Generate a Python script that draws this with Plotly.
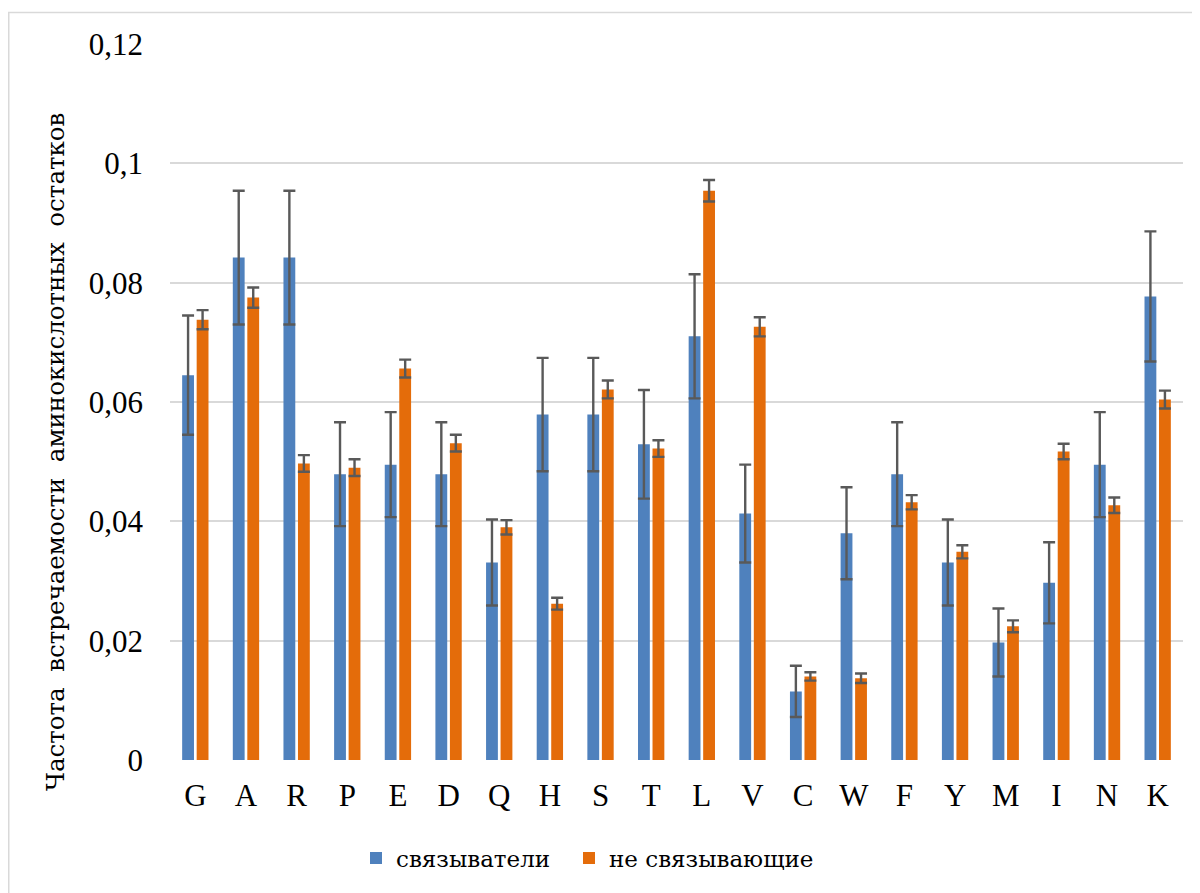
import plotly.graph_objects as go

categories = ["G", "A", "R", "P", "E", "D", "Q", "H", "S", "T",
              "L", "V", "C", "W", "F", "Y", "M", "I", "N", "K"]
binders = [0.0645, 0.0842, 0.0842, 0.0479, 0.0495, 0.0479, 0.0331, 0.0579, 0.0579, 0.0529,
           0.0710, 0.0413, 0.0115, 0.0380, 0.0479, 0.0331, 0.0197, 0.0297, 0.0495, 0.0777]
binders_err = [0.0100, 0.0112, 0.0112, 0.0087, 0.0088, 0.0087, 0.0072, 0.0095, 0.0095, 0.0091,
               0.0104, 0.0082, 0.0043, 0.0077, 0.0087, 0.0072, 0.0057, 0.0068, 0.0088, 0.0109]
nonbinders = [0.0738, 0.0775, 0.0497, 0.0490, 0.0656, 0.0531, 0.0390, 0.0262, 0.0621, 0.0522,
              0.0954, 0.0726, 0.0140, 0.0137, 0.0432, 0.0349, 0.0224, 0.0517, 0.0427, 0.0604]
nonbinders_err = [0.0016, 0.0017, 0.0014, 0.0014, 0.0015, 0.0014, 0.0012, 0.0010, 0.0015, 0.0014,
                  0.0018, 0.0016, 0.0007, 0.0008, 0.0012, 0.0011, 0.0010, 0.0013, 0.0013, 0.0015]
y_tickvals = [0, 0.02, 0.04, 0.06, 0.08, 0.1, 0.12]
y_ticktext = ["0", "0,02", "0,04", "0,06", "0,08", "0,1", "0,12"]
series_names = ["связыватели", "не связывающие"]
y_title = "Частота  встречаемости  аминокислотных  остатков"

# page body has an 8px margin, so the figure is drawn 8px in from the window edge
W, H = 1192, 885
ML, MR, MT, MB = 162, 17, 36, 133
PW, PH = W - ML - MR, H - MT - MB

def px_x(x):
    return (x - ML) / PW

def px_y(y):
    return 1 - (y - MT) / PH

FONT = "Liberation Serif"
CYR_FONT = "DejaVu Serif"
BLUE = "#4f81bd"
ORANGE = "#e46c0a"
ERR = "#595959"

fig = go.Figure()
fig.add_trace(go.Bar(
    x=categories, y=binders, name=series_names[0], legend="legend",
    marker=dict(color=BLUE, line=dict(width=0)),
    error_y=dict(type="data", array=binders_err, visible=True,
                 color=ERR, thickness=2.4, width=6),
))
fig.add_trace(go.Bar(
    x=categories, y=nonbinders, name=series_names[1], legend="legend2",
    marker=dict(color=ORANGE, line=dict(width=0)),
    error_y=dict(type="data", array=nonbinders_err, visible=True,
                 color=ERR, thickness=2.4, width=6),
))

leg_common = dict(orientation="h", xref="container", yref="container",
                  xanchor="left", y=1 - 850 / H, yanchor="middle",
                  font=dict(family=CYR_FONT, size=23, color="black"),
                  itemwidth=30, bgcolor="rgba(0,0,0,0)", borderwidth=0)

fig.update_layout(
    width=W, height=H,
    margin=dict(l=ML, r=MR, t=MT, b=MB, pad=0),
    paper_bgcolor="white", plot_bgcolor="white",
    barmode="group", bargap=0.427, bargroupgap=0.186,
    font=dict(family=FONT, size=31, color="black"),
    showlegend=True,
    legend=dict(x=348 / W, **leg_common),
    legend2=dict(x=561 / W, **leg_common),
    xaxis=dict(showline=False, ticks="", showgrid=False,
               tickfont=dict(family=FONT, size=31), ticklabelstandoff=14),
    yaxis=dict(range=[0, 0.12], tickvals=y_tickvals, ticktext=y_ticktext,
               showgrid=True, gridcolor="#d9d9d9", gridwidth=1.5,
               zeroline=False, showline=False, ticks="",
               tickfont=dict(family=FONT, size=31), ticklabelstandoff=26),
    annotations=[dict(text=y_title, textangle=-90, xref="paper", yref="paper",
                      x=px_x(48), y=px_y(444), xanchor="center", yanchor="middle",
                      showarrow=False, font=dict(family=CYR_FONT, size=24.5, color="black"))],
    shapes=[
        dict(type="line", xref="paper", yref="paper", layer="below",
             x0=px_x(0), x1=px_x(W), y0=px_y(4.5), y1=px_y(4.5),
             line=dict(color="#d9d9d9", width=1.5)),
        dict(type="line", xref="paper", yref="paper", layer="below",
             x0=px_x(0.75), x1=px_x(0.75), y0=px_y(4), y1=px_y(H),
             line=dict(color="#d9d9d9", width=1.5)),
    ],
)

fig.write_html("out.html")
